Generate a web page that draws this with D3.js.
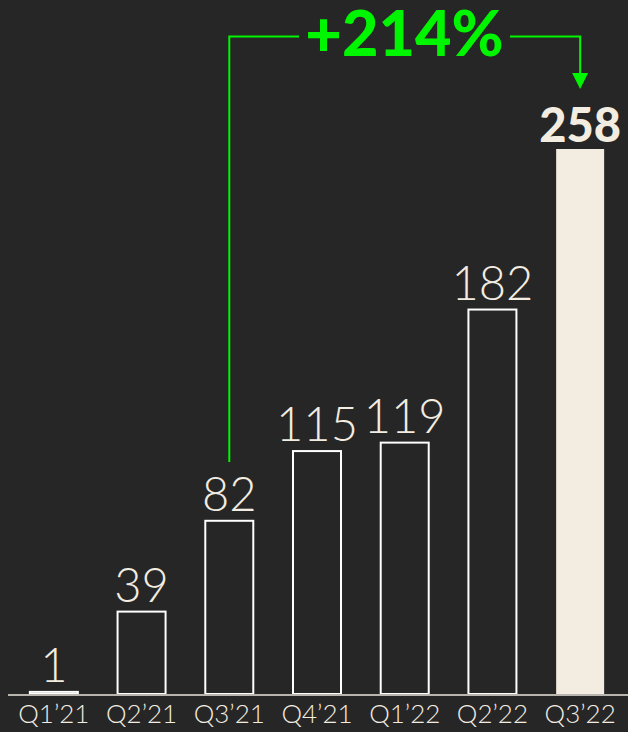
<!DOCTYPE html>
<html>
<head>
<meta charset="utf-8">
<script src="https://cdn.jsdelivr.net/npm/d3@7"></script>
<style>
  html, body { margin: 0; padding: 0; background: #262626; }
  svg { display: block; }
</style>
</head>
<body>
<script>
// data
var quarters = ["Q1’21", "Q2’21", "Q3’21", "Q4’21", "Q1’22", "Q2’22", "Q3’22"];
var values = [1, 39, 82, 115, 119, 182, 258];
var growthLabel = "+214%";
var growthFrom = "Q3’21", growthTo = "Q3’22";

var W = 628, H = 732;
var cream = "#f3ece0", green = "#00f500";

var svg = d3.select("body").append("svg")
  .attr("width", W)
  .attr("height", H);

var x = d3.scaleBand().domain(quarters).range([10, 624]).paddingInner(0.43).paddingOuter(0.215);
var y = d3.scaleLinear().domain([0, 258]).range([694, 149]);

var data = quarters.map(function (q, i) { return { q: q, v: values[i] }; });
var last = quarters[quarters.length - 1];

// bars
svg.selectAll(".bar")
  .data(data)
  .enter()
  .append("rect")
  .attr("class", "bar")
  .attr("x", function (d) { return x(d.q) + 1; })
  .attr("width", x.bandwidth() - 2)
  .attr("y", function (d) { return y(d.v); })
  .attr("height", function (d) { return y(0) - y(d.v); })
  .attr("fill", function (d) { return d.q == last ? cream : "none"; })
  .attr("stroke", function (d) { return d.q == last ? "none" : "#ffffff"; })
  .attr("stroke-width", 2);

// baseline
svg.append("line")
  .attr("x1", 8).attr("x2", W)
  .attr("y1", y(0) + 1).attr("y2", y(0) + 1)
  .attr("stroke", "#b8b4ae")
  .attr("stroke-width", 2);

// value labels
svg.selectAll(".val")
  .data(data)
  .enter()
  .append("text")
  .attr("class", "val")
  .attr("x", function (d) { return x(d.q) + x.bandwidth() / 2; })
  .attr("y", function (d) { return y(d.v) - (d.q == last ? 7 : 10); })
  .attr("text-anchor", "middle")
  .style("font-family", "Lato, sans-serif")
  .style("font-weight", function (d) { return d.q == last ? 900 : 300; })
  .style("font-size", "47px")
  .style("fill", cream)
  .text(function (d) { return d.v; });

// x axis labels
var xAxis = svg.append("g")
  .attr("transform", "translate(0," + (y(0) + 2) + ")")
  .call(d3.axisBottom(x).tickSize(0).tickPadding(9));
xAxis.select(".domain").remove();
xAxis.selectAll("text")
  .style("font-family", "Lato, sans-serif")
  .style("font-weight", 300)
  .style("font-size", "26px")
  .style("fill", cream);

// growth annotation
var x0 = x(growthFrom) + x.bandwidth() / 2;
var x1 = x(growthTo) + x.bandwidth() / 2;
var yTop = 36.5;

svg.append("path")
  .attr("d", "M" + x0 + "," + 462 + "V" + yTop + "H" + 299)
  .attr("fill", "none")
  .attr("stroke", green)
  .attr("stroke-width", 2);

svg.append("path")
  .attr("d", "M" + 510 + "," + yTop + "H" + x1 + "V" + 76)
  .attr("fill", "none")
  .attr("stroke", green)
  .attr("stroke-width", 2);

svg.append("path")
  .attr("d", "M" + (x1 - 8) + ",73L" + (x1 + 8) + ",73L" + x1 + ",89Z")
  .attr("fill", green);

svg.append("text")
  .attr("x", 404.5)
  .attr("y", 56)
  .attr("text-anchor", "middle")
  .style("font-family", "Lato, sans-serif")
  .style("font-weight", 900)
  .style("font-size", "63px")
  .style("fill", green)
  .text(growthLabel);
</script>
</body>
</html>
